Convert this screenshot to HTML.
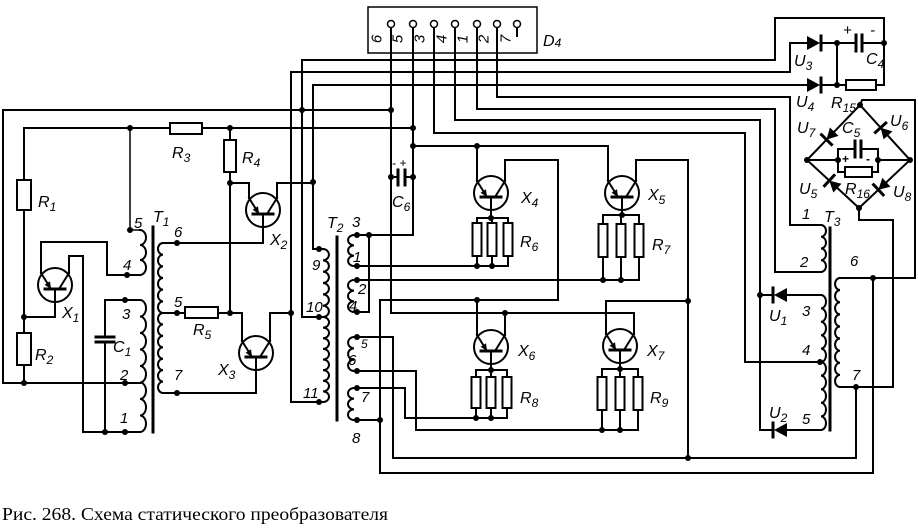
<!DOCTYPE html>
<html><head><meta charset="utf-8">
<style>
html,body{margin:0;padding:0;background:#fff;}
svg{display:block}
text{font-family:"Liberation Sans",sans-serif;font-style:italic;fill:#000;font-size:16px}
.d{font-size:15px}
.s{font-size:12px}
.cap{font-family:"Liberation Serif",serif;font-style:normal;font-size:18px}
</style></head><body>
<svg width="918" height="531" viewBox="0 0 918 531" xmlns="http://www.w3.org/2000/svg">
<g fill="none" stroke="#000" stroke-width="2" stroke-linecap="square">
<!-- D4 -->
<rect x="368" y="7" width="169" height="46" stroke-width="1.5"/>
<path d="M391,28V313H634V334"/>
<path d="M413,28V235H354"/>
<path d="M434,28V133H745V362H821"/>
<path d="M455,28V120H760V430H773"/>
<path d="M477,28V109H775V272H821"/>
<path d="M497,28V97H790V225H821"/>
<path d="M517,28V36"/>
<!-- top wires -->
<path d="M140,383H3V110H391"/>
<path d="M323,317H302V60H775V18H884V85H876"/>
<path d="M323,402H291V72H790V43H807"/>
<path d="M323,249H313V85H807"/>
<path d="M821,43H856M862,43H884"/>
<path d="M821,85H846"/>
<path d="M837,43V85"/>
<path d="M856,35V51M862,35V51" stroke-width="3"/>
<rect x="846" y="80" width="30" height="10" fill="#fff"/>
<!-- left -->
<path d="M24,128H170M202,128H413"/>
<rect x="170" y="123" width="32" height="11" fill="#fff"/>
<path d="M24,128V383"/>
<rect x="17" y="180" width="14" height="30" fill="#fff"/>
<rect x="17" y="333" width="14" height="32" fill="#fff"/>
<path d="M55,302V317H24"/>
<path d="M41,273V242H107V275H140"/>
<path d="M69,273V256H83V432H140"/>
<path d="M105,300H140M105,300V337M105,342V432"/>
<path d="M96,337H114M96,342H114" stroke-width="3"/>
<path d="M130,128V230H140" stroke-width="1.5"/>
<path d="M163,243H263V227"/>
<path d="M249,198V183H230"/>
<path d="M277,198V183H313"/>
<path d="M230,128V313H242V341"/>
<rect x="224" y="140" width="12" height="32" fill="#fff"/>
<path d="M163,313H230"/>
<rect x="185" y="307" width="33" height="11" fill="#fff"/>
<path d="M270,341V313H291"/>
<path d="M256,370V393H163"/>
<!-- T1 -->
<path d="M153,227V432" stroke-width="3"/>
<path d="M140,230a6,7.5 0 0 1 0,15a6,7.5 0 0 1 0,15a6,7.5 0 0 1 0,15"/>
<path d="M140,300a6,8.25 0 0 1 0,16.5a6,8.25 0 0 1 0,16.5a6,8.25 0 0 1 0,16.5a6,8.25 0 0 1 0,16.5a6,8.25 0 0 1 0,16.5a6,8.25 0 0 1 0,16.5a6,8.25 0 0 1 0,16.5a6,8.25 0 0 1 0,16.5"/>
<path d="M163,243a5,5.833 0 0 0 0,11.667a5,5.833 0 0 0 0,11.667a5,5.833 0 0 0 0,11.667a5,5.833 0 0 0 0,11.667a5,5.833 0 0 0 0,11.667a5,5.833 0 0 0 0,11.667a5,5.714 0 0 0 0,11.429a5,5.714 0 0 0 0,11.429a5,5.714 0 0 0 0,11.429a5,5.714 0 0 0 0,11.429a5,5.714 0 0 0 0,11.429a5,5.714 0 0 0 0,11.429a5,5.714 0 0 0 0,11.429"/>
<!-- T2 -->
<path d="M337,237V420" stroke-width="3"/>
<path d="M323,249a6,5.667 0 0 1 0,11.333a6,5.667 0 0 1 0,11.333a6,5.667 0 0 1 0,11.333a6,5.667 0 0 1 0,11.333a6,5.667 0 0 1 0,11.333a6,5.667 0 0 1 0,11.333a6,5.3125 0 0 1 0,10.625a6,5.3125 0 0 1 0,10.625a6,5.3125 0 0 1 0,10.625a6,5.3125 0 0 1 0,10.625a6,5.3125 0 0 1 0,10.625a6,5.3125 0 0 1 0,10.625a6,5.3125 0 0 1 0,10.625a6,5.3125 0 0 1 0,10.625"/>
<path d="M354,235a6,5.167 0 0 0 0,10.333a6,5.167 0 0 0 0,10.333a6,5.167 0 0 0 0,10.333"/>
<path d="M354,280a6,5.333 0 0 0 0,10.667a6,5.333 0 0 0 0,10.667a6,5.333 0 0 0 0,10.667"/>
<path d="M354,337a6,5.667 0 0 0 0,11.333a6,5.667 0 0 0 0,11.333a6,5.667 0 0 0 0,11.333"/>
<path d="M354,388a6,5.333 0 0 0 0,10.667a6,5.333 0 0 0 0,10.667a6,5.333 0 0 0 0,10.667"/>
<path d="M369,235V312H354"/>
<path d="M354,266H508V256"/>
<path d="M354,280H639V257"/>
<path d="M354,337H393V458H856V387"/>
<path d="M354,371H416V430H638V410"/>
<path d="M354,388H405V418H507V408"/>
<path d="M354,420H380"/>
<path d="M380,300V473H873V278"/>
<path d="M380,300H558V160H505V181"/>
<path d="M477,146V181"/>
<path d="M413,146H608V181"/>
<path d="M636,181V160H688V458"/>
<path d="M477,335V300"/>
<path d="M505,335V313"/>
<path d="M606,334V301H688"/>
<path d="M391,177H398M405,177H413"/>
<path d="M398,170V185M405,170V185" stroke-width="3"/>
<!-- resistor groups -->
<path d="M491,210V218M477,218H508M477,218V223M492,218V223M508,218V223M477,256V266M492,256V266"/>
<rect x="472.5" y="223" width="9" height="33" fill="#fff"/>
<rect x="487.5" y="223" width="9" height="33" fill="#fff"/>
<rect x="503.5" y="223" width="9" height="33" fill="#fff"/>
<path d="M622,210V215M603,215H639M603,215V224M621,215V224M639,215V224M603,257V280M621,257V280"/>
<rect x="598.5" y="224" width="9" height="33" fill="#fff"/>
<rect x="616.5" y="224" width="9" height="33" fill="#fff"/>
<rect x="634.5" y="224" width="9" height="33" fill="#fff"/>
<path d="M491,364V370M476,370H507M476,370V377M491,370V377M507,370V377M476,408V418M491,408V418"/>
<rect x="471.5" y="377" width="9" height="31" fill="#fff"/>
<rect x="486.5" y="377" width="9" height="31" fill="#fff"/>
<rect x="502.5" y="377" width="9" height="31" fill="#fff"/>
<path d="M620,363V369M602,369H638M602,369V377M620,369V377M638,369V377M602,410V430M620,410V430"/>
<rect x="597.5" y="377" width="9" height="33" fill="#fff"/>
<rect x="615.5" y="377" width="9" height="33" fill="#fff"/>
<rect x="633.5" y="377" width="9" height="33" fill="#fff"/>
<!-- T3 -->
<path d="M830,228V430" stroke-width="3"/>
<path d="M821,225a5,5.875 0 0 1 0,11.75a5,5.875 0 0 1 0,11.75a5,5.875 0 0 1 0,11.75a5,5.875 0 0 1 0,11.75"/>
<path d="M821,295a5,6.7 0 0 1 0,13.4a5,6.7 0 0 1 0,13.4a5,6.7 0 0 1 0,13.4a5,6.7 0 0 1 0,13.4a5,6.7 0 0 1 0,13.4a5,6.8 0 0 1 0,13.6a5,6.8 0 0 1 0,13.6a5,6.8 0 0 1 0,13.6a5,6.8 0 0 1 0,13.6a5,6.8 0 0 1 0,13.6"/>
<path d="M840,278a5,6.056 0 0 0 0,12.111a5,6.056 0 0 0 0,12.111a5,6.056 0 0 0 0,12.111a5,6.056 0 0 0 0,12.111a5,6.056 0 0 0 0,12.111a5,6.056 0 0 0 0,12.111a5,6.056 0 0 0 0,12.111a5,6.056 0 0 0 0,12.111a5,6.056 0 0 0 0,12.111"/>
<path d="M760,295H773M787,295H821M787,430H821"/>
<path d="M773,288V302M773,423V437" stroke-width="3"/>
<path d="M840,278H915V100H862L860,105"/>
<path d="M840,387H893V220H859V208"/>
<!-- bridge -->
<path d="M860,105L807,160L859,208L910,160Z"/>
<path d="M807,160H838M878,160H910M838,149V172M878,149V172M838,149H855M861,149H878M838,172H845M872,172H878"/>
<path d="M855,141V157M861,141V157" stroke-width="3"/>
<rect x="845" y="167" width="27" height="10" fill="#fff"/>
<path d="M831.5,144.5L821.5,134.7M885.8,123L875.4,132.4M834,175.5L824.6,185.7M883.2,194.9L873.6,184.7M821,36V50M821,78V92" stroke-width="3"/>
<!-- transistors -->
<g transform="translate(55,285)"><circle r="17"/><path d="M-10,4H10" stroke-width="3"/><path d="M-14,-12L-4,4M4,4L14,-12M0,4V17"/></g>
<g transform="translate(263,210)"><circle r="17"/><path d="M-10,4H10" stroke-width="3"/><path d="M-14,-12L-4,4M4,4L14,-12M0,4V17"/></g>
<g transform="translate(256,353)"><circle r="17"/><path d="M-10,4H10" stroke-width="3"/><path d="M-14,-12L-4,4M4,4L14,-12M0,4V17"/></g>
<g transform="translate(491,193)"><circle r="17"/><path d="M-10,4H10" stroke-width="3"/><path d="M-14,-12L-4,4M4,4L14,-12M0,4V17"/></g>
<g transform="translate(622,193)"><circle r="17"/><path d="M-10,4H10" stroke-width="3"/><path d="M-14,-12L-4,4M4,4L14,-12M0,4V17"/></g>
<g transform="translate(491,347)"><circle r="17"/><path d="M-10,4H10" stroke-width="3"/><path d="M-14,-12L-4,4M4,4L14,-12M0,4V17"/></g>
<g transform="translate(620,346)"><circle r="17"/><path d="M-10,4H10" stroke-width="3"/><path d="M-14,-12L-4,4M4,4L14,-12M0,4V17"/></g>
</g>
<!-- filled shapes -->
<g fill="#000" stroke="none">
<polygon points="51,289 44.6,284.7 50,281.3"/>
<polygon points="259,214 252.6,209.7 258,206.3"/>
<polygon points="252,357 245.6,352.7 251,349.3"/>
<polygon points="487,197 480.6,192.7 486,189.3"/>
<polygon points="618,197 611.6,192.7 617,189.3"/>
<polygon points="487,351 480.6,346.7 486,343.3"/>
<polygon points="616,350 609.6,345.7 615,342.3"/>
<polygon points="807,36 807,50 820,43"/>
<polygon points="807,78 807,92 820,85"/>
<polygon points="774,295 787,288 787,302"/>
<polygon points="774,430 787,423 787,437"/>
<polygon points="826.5,139.6 838.5,135.9 829.9,127.5"/>
<polygon points="880.6,127.7 892.4,131.4 883.6,139.4"/>
<polygon points="829.3,180.6 841.5,183.7 833.3,192.5"/>
<polygon points="878.4,189.8 890.5,186.7 882.3,177.9"/>
<g>
<circle cx="302" cy="110" r="3"/><circle cx="391" cy="110" r="3"/><circle cx="24" cy="383" r="3"/><circle cx="125" cy="383" r="3"/>
<circle cx="24" cy="317" r="3"/><circle cx="130" cy="128" r="3"/><circle cx="230" cy="128" r="3"/><circle cx="130" cy="230" r="3"/>
<circle cx="127" cy="275" r="3"/><circle cx="125" cy="300" r="3"/><circle cx="105" cy="432" r="3"/><circle cx="125" cy="432" r="3"/>
<circle cx="177" cy="243" r="3"/><circle cx="177" cy="313" r="3"/><circle cx="177" cy="393" r="3"/><circle cx="230" cy="183" r="3"/>
<circle cx="313" cy="182" r="3"/><circle cx="230" cy="313" r="3"/><circle cx="291" cy="313" r="3"/>
<circle cx="319" cy="249" r="3"/><circle cx="319" cy="317" r="3"/><circle cx="319" cy="402" r="3"/>
<circle cx="413" cy="128" r="3"/><circle cx="413" cy="146" r="3"/><circle cx="477" cy="146" r="3"/>
<circle cx="391" cy="177" r="3"/><circle cx="413" cy="177" r="3"/>
<circle cx="357" cy="235" r="3"/><circle cx="369" cy="235" r="3"/><circle cx="357" cy="266" r="3"/><circle cx="357" cy="280" r="3"/>
<circle cx="357" cy="312" r="3"/><circle cx="357" cy="337" r="3"/><circle cx="357" cy="371" r="3"/><circle cx="357" cy="388" r="3"/>
<circle cx="357" cy="420" r="3"/><circle cx="380" cy="420" r="3"/>
<circle cx="477" cy="266" r="3"/><circle cx="492" cy="266" r="3"/><circle cx="603" cy="280" r="3"/><circle cx="621" cy="280" r="3"/>
<circle cx="477" cy="300" r="3"/><circle cx="505" cy="313" r="3"/><circle cx="688" cy="301" r="3"/>
<circle cx="491" cy="218" r="3"/><circle cx="622" cy="215" r="3"/><circle cx="491" cy="370" r="3"/><circle cx="620" cy="369" r="3"/>
<circle cx="476" cy="418" r="3"/><circle cx="491" cy="418" r="3"/><circle cx="602" cy="430" r="3"/><circle cx="620" cy="430" r="3"/>
<circle cx="688" cy="458" r="3"/><circle cx="760" cy="295" r="3"/><circle cx="820" cy="362" r="3"/>
<circle cx="873" cy="278" r="3"/><circle cx="856" cy="387" r="3"/>
<circle cx="837" cy="43" r="3"/><circle cx="884" cy="43" r="3"/><circle cx="837" cy="85" r="3"/>
<circle cx="860" cy="105" r="3"/><circle cx="807" cy="160" r="3"/><circle cx="910" cy="160" r="3"/><circle cx="859" cy="208" r="3"/>
<circle cx="838" cy="160" r="3"/><circle cx="878" cy="160" r="3"/>
</g>
</g>
<!-- D4 pin circles -->
<g fill="#fff" stroke="#000" stroke-width="1.5">
<circle cx="391" cy="24" r="3.5"/><circle cx="413" cy="24" r="3.5"/><circle cx="434" cy="24" r="3.5"/><circle cx="455" cy="24" r="3.5"/>
<circle cx="477" cy="24" r="3.5"/><circle cx="497" cy="24" r="3.5"/><circle cx="517" cy="24" r="3.5"/>
</g>
<!-- labels -->
<g>
<text class="d" transform="translate(377,39) rotate(-90)" text-anchor="middle" dominant-baseline="central">6</text>
<text class="d" transform="translate(398,39) rotate(-90)" text-anchor="middle" dominant-baseline="central">5</text>
<text class="d" transform="translate(420,39) rotate(-90)" text-anchor="middle" dominant-baseline="central">3</text>
<text class="d" transform="translate(442,39) rotate(-90)" text-anchor="middle" dominant-baseline="central">4</text>
<text class="d" transform="translate(463,39) rotate(-90)" text-anchor="middle" dominant-baseline="central">1</text>
<text class="d" transform="translate(484,39) rotate(-90)" text-anchor="middle" dominant-baseline="central">2</text>
<text class="d" transform="translate(506,39) rotate(-90)" text-anchor="middle" dominant-baseline="central">7</text>
<text x="543" y="46">D<tspan class="s" dy="1">4</tspan></text>

<text x="38" y="207">R<tspan class="s" dy="4">1</tspan></text>
<text x="35" y="360">R<tspan class="s" dy="4">2</tspan></text>
<text x="62" y="318">X<tspan class="s" dy="4">1</tspan></text>
<text x="113" y="352">C<tspan class="s" dy="4">1</tspan></text>
<text class="d" x="122" y="319">3</text>
<text class="d" x="120" y="380">2</text>
<text class="d" x="120" y="423">1</text>
<text class="d" x="123" y="270">4</text>
<text class="d" x="134" y="228">5</text>
<text x="153" y="222">T<tspan class="s" dy="4">1</tspan></text>
<text class="d" x="174" y="237">6</text>
<text class="d" x="174" y="307">5</text>
<text class="d" x="174" y="380">7</text>
<text x="172" y="158">R<tspan class="s" dy="4">3</tspan></text>
<text x="242" y="163">R<tspan class="s" dy="4">4</tspan></text>
<text x="270" y="245">X<tspan class="s" dy="4">2</tspan></text>
<text x="193" y="335">R<tspan class="s" dy="4">5</tspan></text>
<text x="218" y="375">X<tspan class="s" dy="4">3</tspan></text>

<text x="327" y="228">T<tspan class="s" dy="4">2</tspan></text>
<text class="d" x="352" y="227">3</text>
<text class="d" x="353" y="262">1</text>
<text class="d" x="358" y="294">2</text>
<text class="d" x="349" y="311">4</text>
<text class="d" x="312" y="270">9</text>
<text class="d" x="306" y="312">10</text>
<text class="d" x="303" y="398">11</text>
<text class="s" x="361" y="348">5</text>
<text class="d" x="348" y="365">6</text>
<text class="d" x="361" y="402">7</text>
<text class="d" x="352" y="443">8</text>
<text x="392" y="207">C<tspan class="s" dy="4">6</tspan></text>
<text class="s" x="392" y="167">- +</text>

<text x="521" y="203">X<tspan class="s" dy="4">4</tspan></text>
<text x="520" y="247">R<tspan class="s" dy="4">6</tspan></text>
<text x="648" y="200">X<tspan class="s" dy="4">5</tspan></text>
<text x="652" y="250">R<tspan class="s" dy="4">7</tspan></text>
<text x="518" y="356">X<tspan class="s" dy="4">6</tspan></text>
<text x="520" y="403">R<tspan class="s" dy="4">8</tspan></text>
<text x="647" y="356">X<tspan class="s" dy="4">7</tspan></text>
<text x="650" y="403">R<tspan class="s" dy="4">9</tspan></text>

<text class="d" x="802" y="219">1</text>
<text x="824" y="222">T<tspan class="s" dy="4">3</tspan></text>
<text class="d" x="800" y="267">2</text>
<text class="d" x="850" y="266">6</text>
<text class="d" x="802" y="316">3</text>
<text x="769" y="321">U<tspan class="s" dy="4">1</tspan></text>
<text class="d" x="802" y="355">4</text>
<text class="d" x="852" y="380">7</text>
<text x="769" y="418">U<tspan class="s" dy="4">2</tspan></text>
<text class="d" x="802" y="424">5</text>

<text x="794" y="66">U<tspan class="s" dy="4">3</tspan></text>
<text x="796" y="107">U<tspan class="s" dy="4">4</tspan></text>
<text x="831" y="108">R<tspan class="s" dy="4">15</tspan></text>
<text x="866" y="64">C<tspan class="s" dy="4">4</tspan></text>
<text class="d" x="843" y="35">+</text>
<text class="d" x="870" y="35">-</text>
<text x="797" y="133">U<tspan class="s" dy="4">7</tspan></text>
<text x="842" y="133">C<tspan class="s" dy="4">5</tspan></text>
<text x="890" y="126">U<tspan class="s" dy="4">6</tspan></text>
<text x="799" y="194">U<tspan class="s" dy="4">5</tspan></text>
<text x="845" y="194">R<tspan class="s" dy="4">16</tspan></text>
<text x="893" y="197">U<tspan class="s" dy="4">8</tspan></text>
<text class="s" x="842" y="163" style="font-style:normal;font-weight:bold">+</text>
<text class="s" x="866" y="163" style="font-style:normal;font-weight:bold">-</text>

<text class="cap" x="2" y="520" textLength="386" lengthAdjust="spacingAndGlyphs">Рис. 268. Схема статического преобразователя</text>
</g>
</svg>
</body></html>
